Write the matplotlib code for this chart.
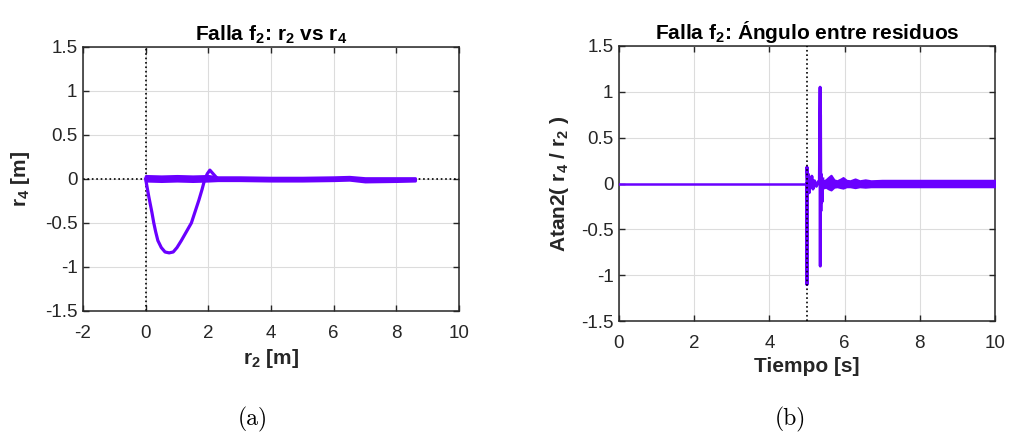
import matplotlib
matplotlib.use('Agg')
import matplotlib.pyplot as plt

plt.rcParams['font.family'] = ['Liberation Sans', 'DejaVu Sans']
plt.rcParams['mathtext.fontset'] = 'custom'
plt.rcParams['mathtext.rm'] = 'Liberation Sans'
plt.rcParams['mathtext.bf'] = 'Liberation Sans:bold'
plt.rcParams['axes.unicode_minus'] = False

# (a) r2 vs r4 trajectory
r2_fault = [0.0, 0.1, 0.2, 0.26, 0.32, 0.39, 0.5, 0.62, 0.75, 0.88, 1.0, 1.14,
            1.3, 1.46, 1.58, 1.7, 1.8, 1.89, 1.97, 2.05, 2.15, 2.3]
r4_fault = [0.0, -0.2, -0.38, -0.5, -0.6, -0.7, -0.78, -0.83, -0.84, -0.83,
            -0.78, -0.7, -0.6, -0.5, -0.37, -0.24, -0.12, 0.0, 0.06, 0.1, 0.06, 0.0]
r2_band = [0.0, 0.5, 1.0, 1.5, 2.0, 2.3, 3.0, 4.0, 5.0, 6.0, 6.5, 7.0, 8.0, 8.6]
r4_band_hi = [0.035, 0.03, 0.035, 0.03, 0.035, 0.02, 0.02, 0.015, 0.015, 0.02,
              0.025, 0.01, 0.01, 0.01]
r4_band_lo = [-0.02, -0.025, -0.02, -0.025, -0.02, -0.015, -0.015, -0.02, -0.02,
              -0.015, -0.01, -0.03, -0.025, -0.02]

# (b) atan2 angle over time
t_pre = [0.0, 5.0]
ang_pre = [0.0, 0.0]
t_spk = [5.0, 5.0, 5.0, 5.02, 5.04, 5.06, 5.08, 5.1, 5.13, 5.16, 5.2, 5.25, 5.3,
         5.33, 5.35, 5.355, 5.36, 5.37, 5.38, 5.4, 5.42]
ang_spk = [0.0, -1.1, 0.18, -0.05, 0.1, -0.1, 0.06, -0.04, 0.08, -0.06, 0.03,
           -0.03, 0.02, 0.0, 1.05, -0.9, 0.75, -0.3, 0.1, -0.2, 0.05]
t_env = [5.42, 5.5, 5.58, 5.64, 5.72, 5.8, 5.9, 5.96, 6.05, 6.15, 6.28, 6.4,
         6.55, 6.7, 7.0, 8.0, 9.0, 10.0]
ang_hi = [0.03, 0.04, 0.07, 0.09, 0.04, 0.03, 0.05, 0.065, 0.035, 0.03, 0.05,
          0.03, 0.04, 0.03, 0.035, 0.035, 0.035, 0.035]
ang_lo = [-0.05, -0.04, -0.06, -0.07, -0.04, -0.035, -0.045, -0.05, -0.035,
          -0.035, -0.045, -0.035, -0.04, -0.035, -0.035, -0.035, -0.035, -0.035]

purple = '#6a00ff'
txt = '#262626'
fs_tick = 13.5
fs_lab = 15

fig = plt.figure(figsize=(10.13, 4.38), dpi=100)
ax1 = fig.add_axes([0.0819, 0.29, 0.3712, 0.603])
ax2 = fig.add_axes([0.611, 0.267, 0.3712, 0.628])


def style(ax):
    ax.grid(True, color='#dcdcdc', linewidth=0.8)
    ax.set_axisbelow(True)
    ax.tick_params(direction='in', top=True, right=True, labelsize=fs_tick,
                   colors=txt, length=4, width=1, pad=4)
    ax.tick_params(axis='x', pad=10)
    for s in ax.spines.values():
        s.set_color(txt)
        s.set_linewidth(1.1)
    ax.set_ylim(-1.5, 1.5)
    ax.set_yticks([-1.5, -1, -0.5, 0, 0.5, 1, 1.5])
    ax.set_yticklabels(['-1.5', '-1', '-0.5', '0', '0.5', '1', '1.5'])


style(ax1)
ax1.set_xlim(-2, 10)
ax1.set_xticks([-2, 0, 2, 4, 6, 8, 10])
ax1.set_xticklabels(['-2', '0', '2', '4', '6', '8', '10'])
ax1.axhline(0, color='k', linestyle=':', linewidth=1.2, zorder=1)
ax1.axvline(0, color='k', linestyle=':', linewidth=1.2, zorder=1)
ax1.fill_between(r2_band, r4_band_lo, r4_band_hi, color=purple, linewidth=2, edgecolor=purple, zorder=3)
ax1.plot(r2_fault, r4_fault, color=purple, linewidth=2.3, zorder=3)
ax1.set_title('Falla f$_{\\mathbf{2}}$: r$_{\\mathbf{2}}$ vs r$_{\\mathbf{4}}$',
              fontsize=fs_lab, fontweight='bold', pad=5)
ax1.set_xlabel('r$_{\\mathbf{2}}$ [m]', fontsize=fs_lab, fontweight='bold', color=txt)
ax1.set_ylabel('r$_{\\mathbf{4}}$ [m]', fontsize=fs_lab, fontweight='bold', color=txt,
               labelpad=9)

style(ax2)
ax2.set_xlim(0, 10)
ax2.set_xticks([0, 2, 4, 6, 8, 10])
ax2.set_xticklabels(['0', '2', '4', '6', '8', '10'])
ax2.axvline(5, color='k', linestyle=':', linewidth=1.2, zorder=4)
ax2.plot(t_pre, ang_pre, color=purple, linewidth=1.8, zorder=3)
ax2.plot(t_spk, ang_spk, color=purple, linewidth=2.2, zorder=3)
ax2.fill_between(t_env, ang_lo, ang_hi, color=purple, linewidth=1.5, edgecolor=purple, zorder=3)
ax2.set_title('Falla f$_{\\mathbf{2}}$: Ángulo entre residuos',
              fontsize=fs_lab, fontweight='bold', pad=5)
ax2.set_xlabel('Tiempo [s]', fontsize=fs_lab, fontweight='bold', color=txt)
ax2.set_ylabel('Atan2( r$_{\\mathbf{4}}$ / r$_{\\mathbf{2}}$ )', fontsize=fs_lab,
               fontweight='bold', color=txt, labelpad=7)

fig.text(0.25, 0.043, '(a)', fontsize=17, family='cmr10', ha='center', va='center')
fig.text(0.78, 0.043, '(b)', fontsize=17, family='cmr10', ha='center', va='center')

plt.savefig('out.png', dpi=100)
